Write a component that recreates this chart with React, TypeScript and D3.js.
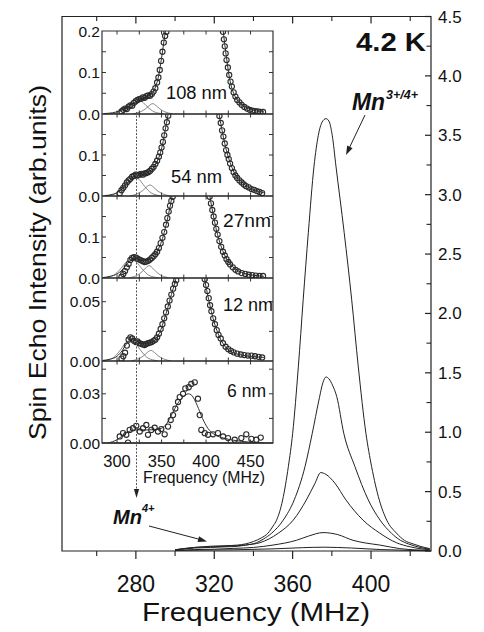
import React from 'react';
import * as d3 from 'd3';

type P = [number, number];

// ---------- main chart data (frequency MHz, intensity arb.units) ----------
const mainXMajor = [280, 320, 360, 400];
const mainXMinor = [260, 300, 340, 380, 420];
const mainYMajor = [0, 0.5, 1, 1.5, 2, 2.5, 3, 3.5, 4, 4.5];
const mainYMinor = [0.25, 0.75, 1.25, 1.75, 2.25, 2.75, 3.25, 3.75, 4.25];

const curve108: P[] = [
  [300, 0.01], [310, 0.03], [318, 0.04], [326, 0.045], [332, 0.05], [336, 0.06], [340, 0.08], [344, 0.11],
  [347.4, 0.15], [350, 0.21], [351.8, 0.26], [354.9, 0.43], [357.8, 0.71], [360, 0.99], [362.9, 1.55],
  [365.4, 2.12], [368, 2.68], [370.9, 3.24], [373.1, 3.5], [375, 3.61], [377, 3.64], [378.5, 3.62],
  [380.2, 3.5], [382.1, 3.24], [386.3, 2.68], [390.1, 2.12], [393.5, 1.55], [397.4, 0.99], [400.3, 0.71],
  [404.2, 0.43], [408, 0.26], [413, 0.15], [417, 0.09], [421.4, 0.06], [425, 0.04], [430, 0.02],
];
const curve54: P[] = [
  [300, 0.01], [310, 0.03], [318, 0.035], [326, 0.04], [332, 0.045], [336, 0.05], [341.6, 0.07], [345, 0.1],
  [349.3, 0.15], [355.2, 0.26], [360.8, 0.43], [366.3, 0.71], [370, 0.99], [373.4, 1.27], [375.5, 1.42],
  [377, 1.465], [378.5, 1.45], [380.5, 1.39], [382.5, 1.3], [386.1, 0.99], [391.8, 0.71], [398.6, 0.43],
  [404.6, 0.26], [410.4, 0.15], [415, 0.09], [419, 0.06], [425, 0.03], [430, 0.015],
];
const curve27: P[] = [
  [300, 0.01], [310, 0.025], [318, 0.03], [326, 0.035], [332, 0.04], [336, 0.05], [343.3, 0.07],
  [352.7, 0.15], [360.3, 0.26], [367, 0.43], [371.4, 0.57], [374.3, 0.66], [377, 0.645], [381.6, 0.57],
  [387.2, 0.43], [395.9, 0.26], [404.5, 0.15], [412.9, 0.07], [420, 0.035], [430, 0.01],
];
const curve12: P[] = [
  [300, 0.005], [310, 0.012], [320, 0.015], [330, 0.022], [340, 0.03], [350, 0.05], [361.9, 0.09],
  [368, 0.125], [375.5, 0.155], [383, 0.138], [390.8, 0.09], [397, 0.068], [404.5, 0.05], [414.7, 0.02],
  [422, 0.01], [430, 0.005],
];
const curve6: P[] = [
  [300, 0.005], [315, 0.008], [330, 0.01], [350, 0.018], [365, 0.028], [376, 0.032], [390, 0.025],
  [405, 0.012], [420, 0.005], [430, 0.002],
];

// ---------- inset data ----------
const insetXTicks = [300, 350, 400, 450];
const insetXMinor = [325, 375, 425];

const circles108: P[] = [
  [305, 0.006], [307, 0.01], [309, 0.013], [311, 0.012], [313, 0.018], [315, 0.021], [317, 0.02], [319, 0.027],
  [321, 0.031], [323, 0.034], [325, 0.036], [327, 0.037], [329, 0.04], [331, 0.039], [333, 0.043], [335, 0.045],
  [337, 0.044], [339, 0.048], [341, 0.054], [343, 0.062], [345, 0.076], [346.5, 0.088], [348, 0.106],
  [349.5, 0.128], [351, 0.15], [352.5, 0.172], [354, 0.188], [355.5, 0.198],
  [419, 0.198], [420, 0.18], [421, 0.163], [422, 0.146], [423, 0.13], [424.5, 0.112], [426, 0.094],
  [427.5, 0.078], [429, 0.066], [431, 0.052], [433, 0.042], [435, 0.034], [437.5, 0.028], [440, 0.022],
  [443, 0.017], [446, 0.013], [449, 0.01], [452, 0.008], [455, 0.007], [458, 0.006], [461, 0.005], [464, 0.005],
];
const fit108: P[] = [
  [285, 0.001], [295, 0.003], [302, 0.007], [308, 0.013], [314, 0.02], [320, 0.028], [326, 0.035], [332, 0.041],
  [337, 0.046], [341, 0.055], [344, 0.07], [347, 0.095], [350, 0.135], [353, 0.18], [355, 0.21], [358, 0.27],
  [416, 0.27], [419, 0.205], [421, 0.168], [423, 0.135], [425, 0.104], [428, 0.07], [432, 0.045], [438, 0.027],
  [445, 0.016], [455, 0.008], [465, 0.005],
];
const compA108: P[] = [
  [292, 0.0005], [302, 0.005], [310, 0.0175], [316, 0.03], [322, 0.035], [328, 0.03], [334, 0.0175], [342, 0.005], [352, 0.0005],
];
const compB108: P[] = [
  [318, 0.0005], [326, 0.005], [332, 0.0125], [336, 0.02], [340, 0.025], [344, 0.02], [348, 0.0125], [354, 0.005], [362, 0.0005],
];

const circles54: P[] = [
  [303, 0.007], [305, 0.014], [307, 0.02], [309, 0.026], [311, 0.033], [313, 0.038], [315, 0.042], [317, 0.047],
  [319, 0.049], [321, 0.052], [323, 0.05], [325, 0.052], [327, 0.054], [329, 0.052], [331, 0.055], [333, 0.056],
  [335, 0.058], [337, 0.061], [339, 0.066], [341, 0.071], [343, 0.078], [345, 0.086], [347, 0.096], [348.5, 0.106],
  [350, 0.118], [351.5, 0.132], [353, 0.148], [354.5, 0.165], [356, 0.18], [357.5, 0.196],
  [415, 0.195], [416.5, 0.178], [418, 0.16], [419.5, 0.145], [421, 0.128], [422.5, 0.112], [424, 0.1],
  [425.5, 0.09], [427, 0.079], [429, 0.068], [431, 0.058], [433, 0.05], [435, 0.044], [437.5, 0.038],
  [440, 0.033], [442.5, 0.028], [445, 0.024], [448, 0.021], [451, 0.017], [454, 0.015], [457, 0.012], [460, 0.01], [463, 0.007],
];
const fit54: P[] = [
  [286, 0.001], [295, 0.004], [300, 0.008], [306, 0.018], [312, 0.033], [318, 0.046], [324, 0.051], [330, 0.053],
  [336, 0.058], [340, 0.066], [344, 0.08], [348, 0.1], [351, 0.125], [354, 0.16], [357, 0.195], [360, 0.24],
  [412, 0.24], [415, 0.195], [418, 0.16], [421, 0.128], [425, 0.095], [429, 0.07], [434, 0.048], [440, 0.034],
  [447, 0.022], [455, 0.014], [465, 0.008],
];
const compA54: P[] = [
  [289, 0.0007], [299, 0.0066], [307, 0.0235], [313, 0.04], [319, 0.047], [325, 0.04], [331, 0.0235], [339, 0.0066], [349, 0.0007],
];
const compB54: P[] = [
  [315, 0.0005], [323, 0.0054], [329, 0.0135], [333, 0.0216], [337, 0.027], [341, 0.0216], [345, 0.0135], [351, 0.0054], [359, 0.0005],
];

const circles27: P[] = [
  [305, 0.003], [307, 0.01], [309, 0.017], [311, 0.026], [313, 0.034], [315, 0.044], [317, 0.049], [319, 0.051],
  [321, 0.05], [323, 0.047], [325, 0.045], [327, 0.043], [329, 0.041], [331, 0.039], [333, 0.04], [335, 0.042],
  [337, 0.045], [339, 0.049], [341, 0.053], [343, 0.058], [345, 0.064], [347, 0.073], [349, 0.085], [351, 0.098],
  [353, 0.112], [355, 0.13], [356.5, 0.146], [358, 0.162], [359.5, 0.176], [361, 0.188], [362.5, 0.198],
  [404, 0.198], [405.5, 0.182], [407, 0.166], [408.5, 0.15], [410, 0.135], [411.5, 0.12], [413, 0.106],
  [415, 0.09], [417, 0.076], [419, 0.064], [421, 0.055], [423, 0.046], [425, 0.039], [427, 0.033], [430, 0.026],
  [433, 0.02], [436, 0.016], [440, 0.012], [444, 0.01], [448, 0.008], [452, 0.007], [456, 0.006], [460, 0.005], [464, 0.005],
];
const fit27: P[] = [
  [284, 0.001], [292, 0.004], [300, 0.01], [306, 0.02], [311, 0.033], [316, 0.045], [320, 0.048], [324, 0.046],
  [328, 0.043], [332, 0.042], [336, 0.045], [340, 0.051], [344, 0.061], [348, 0.078], [352, 0.103], [356, 0.138],
  [360, 0.178], [364, 0.22], [402, 0.23], [405, 0.19], [408, 0.155], [411, 0.123], [415, 0.09], [420, 0.06],
  [426, 0.038], [433, 0.022], [442, 0.012], [452, 0.007], [465, 0.004],
];
const compA27: P[] = [
  [286, 0.0007], [296, 0.0063], [304, 0.0225], [310, 0.038], [316, 0.045], [322, 0.038], [328, 0.0225], [336, 0.0063], [346, 0.0007],
];
const compB27: P[] = [
  [314, 0.0006], [322, 0.006], [328, 0.015], [332, 0.024], [336, 0.03], [340, 0.024], [344, 0.015], [350, 0.006], [358, 0.0006],
];

const circles12: P[] = [
  [305, 0.002], [307, 0.004], [309, 0.007], [311, 0.013], [313, 0.018], [315, 0.02], [317, 0.019], [319, 0.017],
  [321, 0.016], [323, 0.0165], [325, 0.015], [327, 0.0145], [329, 0.014], [331, 0.0135], [333, 0.0145], [335, 0.015],
  [337, 0.0155], [339, 0.016], [341, 0.017], [343, 0.018], [345, 0.02], [347, 0.023], [349, 0.027], [351, 0.031],
  [353, 0.036], [355, 0.041], [357, 0.046], [359, 0.051], [361, 0.056], [363, 0.061], [365, 0.065], [366.5, 0.068],
  [398.5, 0.069], [400, 0.064], [401.5, 0.059], [403, 0.053], [404.5, 0.047], [406, 0.042], [408, 0.036],
  [410, 0.031], [412, 0.026], [414, 0.022], [416.5, 0.019], [419, 0.015], [422, 0.012], [425, 0.01], [428, 0.0085],
  [431, 0.0073], [435, 0.0062], [439, 0.0055], [443, 0.005], [447, 0.0046], [451, 0.0045], [455, 0.004], [459, 0.0035], [463, 0.003],
];
const fit12: P[] = [
  [284, 0.0005], [292, 0.0015], [300, 0.004], [306, 0.009], [311, 0.015], [316, 0.0185], [320, 0.018], [325, 0.0155],
  [330, 0.0145], [335, 0.0145], [340, 0.016], [345, 0.02], [349, 0.026], [353, 0.035], [357, 0.045], [361, 0.056],
  [365, 0.066], [368, 0.075], [396, 0.075], [399, 0.066], [402, 0.055], [405, 0.045], [409, 0.033], [413, 0.024],
  [418, 0.016], [424, 0.01], [431, 0.0068], [440, 0.005], [452, 0.0038], [465, 0.003],
];
const compA12: P[] = [
  [285, 0.0003], [295, 0.0024], [303, 0.0085], [309, 0.0145], [315, 0.017], [321, 0.0145], [327, 0.0085], [335, 0.0024], [345, 0.0003],
];
const compB12: P[] = [
  [316, 0.0002], [324, 0.0018], [330, 0.0045], [334, 0.0072], [338, 0.009], [342, 0.0072], [346, 0.0045], [352, 0.0018], [360, 0.0002],
];

const circles6: P[] = [
  [303, 0.004], [306.7, 0.006], [310.4, 0.005], [312.3, 0.0002], [314.2, 0.008], [317.9, 0.009], [321.6, 0.0105],
  [325.5, 0.007], [329.2, 0.009], [332.9, 0.011], [334.8, 0.005], [338.5, 0.008], [342.3, 0.0093], [346, 0.007],
  [349.7, 0.0085], [353.5, 0.0053], [357.3, 0.01], [360.3, 0.014], [362.9, 0.017], [365.5, 0.021], [368.5, 0.025],
  [370.4, 0.028], [374.1, 0.03], [376.7, 0.0333], [380.5, 0.034], [383.4, 0.036], [387.3, 0.037], [390.9, 0.027],
  [392.9, 0.017], [394.7, 0.008], [398.5, 0.006], [402.2, 0.005], [407.8, 0.0053], [413.4, 0.006], [419.1, 0.004],
  [424.7, 0.003], [432.2, 0.002], [439.6, 0.003], [445.2, 0.0053], [450.9, 0.0025], [456.5, 0.002], [461.4, 0.0033],
];
const fit6: P[] = [
  [290, 0], [300, 0.002], [310, 0.006], [320, 0.008], [335, 0.008], [350, 0.009], [356, 0.012], [362, 0.018],
  [368, 0.024], [374, 0.028], [380, 0.03], [384, 0.029], [390, 0.023], [396, 0.015], [402, 0.009], [410, 0.005],
  [420, 0.003], [440, 0.001], [465, 0],
];

const panelLabels = ['108 nm', '54 nm', '27nm', '12 nm', '6 nm'];
const panelMax = [0.2, 0.2, 0.2, 0.07, 0.05];
const panelTickLabels = [[0, 0.1, 0.2], [0, 0.1], [0, 0.1], [0, 0.05], [0, 0.03]];
const panelMinor = [[0.05, 0.1, 0.15], [0.05, 0.1, 0.15], [0.05, 0.1, 0.15], [0.025, 0.05], [0.015, 0.03, 0.045]];
const panelDigits = [1, 1, 1, 2, 2];
const panelCircles = [circles108, circles54, circles27, circles12, circles6];
const panelFits = [fit108, fit54, fit27, fit12, fit6];
const panelCompA = [compA108, compA54, compA27, compA12, null];
const panelCompB = [compB108, compB54, compB27, compB12, null];

// ---------- layout ----------
const W = 484, H = 632;
const FONT = '"Liberation Sans", Arial, Helvetica, sans-serif';
const mx = d3.scaleLinear().domain([242.3, 430.6]).range([62, 431]);
const my = d3.scaleLinear().domain([0, 4.5]).range([551, 16.5]);
const ix = d3.scaleLinear().domain([283.1, 475.2]).range([102, 273]);
const panelTop = [31, 114, 196, 278, 361];
const panelBottom = [114, 196, 278, 361, 443];
const labelPos: P[] = [[166, 99], [171, 183], [223, 227], [223, 311], [227, 397]];
const labelLen = [61, 51, 48, 50, 39];

function arrowHead(x1: number, y1: number, x2: number, y2: number, len: number, hw: number) {
  const dx = x2 - x1, dy = y2 - y1;
  const d = Math.hypot(dx, dy);
  const ux = dx / d, uy = dy / d;
  const bx = x2 - ux * len, by = y2 - uy * len;
  return `M${x2},${y2}L${bx - uy * hw},${by + ux * hw}L${bx + uy * hw},${by - ux * hw}Z`;
}

export default function App() {
  const mainLine = d3.line<P>().x(d => mx(d[0])).y(d => my(d[1])).curve(d3.curveMonotoneX);
  const curves = [curve108, curve54, curve27, curve12, curve6];

  return (
    <svg width={W} height={H} viewBox={`0 0 ${W} ${H}`}
      style={{ position: 'absolute', left: 0, top: 0, background: '#fff' }} fontFamily={FONT}>
      <defs>
        {panelTop.map((t, i) => (
          <clipPath id={`pc${i}`} key={i}>
            <rect x={102} y={t} width={171} height={panelBottom[i] - t} />
          </clipPath>
        ))}
      </defs>
      <rect x={0} y={0} width={W} height={H} fill="#fff" />

      {/* main curves */}
      {curves.map((c, i) => (
        <path key={i} d={mainLine(c) || ''} fill="none" stroke="#222" strokeWidth={1} />
      ))}

      {/* main frame */}
      <path d={`M62,16.5H431V551H62Z`} fill="none" stroke="#222" strokeWidth={1.2} />
      {mainXMajor.map(v => (
        <g key={`xm${v}`}>
          <line x1={mx(v)} x2={mx(v)} y1={551} y2={559} stroke="#222" strokeWidth={1.2} />
          <line x1={mx(v)} x2={mx(v)} y1={16.5} y2={23.5} stroke="#222" strokeWidth={1.2} />
          <text x={mx(v)} y={591.5} fontSize={23} textAnchor="middle" fill="#111">{v}</text>
        </g>
      ))}
      {mainXMinor.map(v => (
        <g key={`xn${v}`}>
          <line x1={mx(v)} x2={mx(v)} y1={551} y2={556} stroke="#222" strokeWidth={1.1} />
          <line x1={mx(v)} x2={mx(v)} y1={16.5} y2={21} stroke="#222" strokeWidth={1.1} />
        </g>
      ))}
      {mainYMajor.map(v => (
        <g key={`ym${v}`}>
          <line x1={425} x2={431} y1={my(v)} y2={my(v)} stroke="#222" strokeWidth={1.2} />
          <text x={438} y={my(v) + 6} fontSize={17} fill="#111">{v.toFixed(1)}</text>
        </g>
      ))}
      {mainYMinor.map(v => (
        <line key={`yn${v}`} x1={426.5} x2={431} y1={my(v)} y2={my(v)} stroke="#222" strokeWidth={1.1} />
      ))}

      <text x={256} y={621} fontSize={26} textAnchor="middle" fill="#111" textLength={228} lengthAdjust="spacingAndGlyphs">Frequency (MHz)</text>
      <text transform="translate(46,262.5) rotate(-90)" fontSize={24} textAnchor="middle" fill="#111" textLength={355} lengthAdjust="spacingAndGlyphs">Spin Echo Intensity (arb.units)</text>

      <text x={356} y={51} fontSize={25} fontWeight="bold" fill="#111" textLength={70} lengthAdjust="spacingAndGlyphs">4.2 K</text>

      {/* Mn3+/4+ annotation */}
      <text x={352} y={110} fontSize={24} fontWeight="bold" fontStyle="italic" fill="#111" textLength={33} lengthAdjust="spacingAndGlyphs">Mn</text>
      <text x={386} y={99} fontSize={12.5} fontWeight="bold" fontStyle="italic" fill="#111" textLength={32} lengthAdjust="spacingAndGlyphs">3+/4+</text>
      <line x1={365} y1={115} x2={349.5} y2={147.5} stroke="#222" strokeWidth={1} />
      <path d={arrowHead(365, 115, 346, 155, 9, 3)} fill="#222" />

      {/* Mn4+ annotation */}
      <text x={113} y={524} fontSize={21} fontWeight="bold" fontStyle="italic" fill="#111" textLength={29} lengthAdjust="spacingAndGlyphs">Mn</text>
      <text x={142} y={512} fontSize={11} fontWeight="bold" fontStyle="italic" fill="#111">4+</text>
      <line x1={149} y1={526} x2={199} y2={539.2} stroke="#222" strokeWidth={1} />
      <path d={arrowHead(149, 526, 207, 541.5, 9, 3)} fill="#222" />

      {/* inset */}
      <rect x={102} y={31} width={171} height={412} fill="#fff" />
      {panelTop.map((t, i) => {
        const b = panelBottom[i];
        const py = d3.scaleLinear().domain([0, panelMax[i]]).range([b, t]);
        const ln = d3.line<P>().x(d => ix(d[0])).y(d => py(d[1])).curve(d3.curveMonotoneX);
        const ca = panelCompA[i], cb = panelCompB[i];
        return (
          <g key={`panel${i}`}>
            <g clipPath={`url(#pc${i})`}>
              {ca && <path d={ln(ca) || ''} fill="none" stroke="#555" strokeWidth={0.7} />}
              {cb && <path d={ln(cb) || ''} fill="none" stroke="#555" strokeWidth={0.7} />}
              <path d={ln(panelFits[i]) || ''} fill="none" stroke="#333" strokeWidth={1} />
              {panelCircles[i].map((d, k) => (
                <circle key={k} cx={ix(d[0])} cy={py(d[1])} r={2.6} fill="none" stroke="#2a2a2a" strokeWidth={1.1} />
              ))}
            </g>
            {panelMinor[i].map(v => (
              <g key={`pm${v}`}>
                <line x1={102} x2={106} y1={py(v)} y2={py(v)} stroke="#333" strokeWidth={1} />
                <line x1={269} x2={273} y1={py(v)} y2={py(v)} stroke="#333" strokeWidth={1} />
              </g>
            ))}
            {[...insetXTicks, ...insetXMinor].map(v => (
              <g key={`px${v}`}>
                <line x1={ix(v)} x2={ix(v)} y1={b} y2={b - 3.5} stroke="#333" strokeWidth={1} />
                <line x1={ix(v)} x2={ix(v)} y1={t} y2={t + 3.5} stroke="#333" strokeWidth={1} />
              </g>
            ))}
            {panelTickLabels[i].map(v => (
              <text key={`pl${v}`} x={100} y={py(v) + 5.5} fontSize={15.5} textAnchor="end" fill="#111">
                {v.toFixed(panelDigits[i])}
              </text>
            ))}
            <line x1={102} x2={273} y1={b} y2={b} stroke="#222" strokeWidth={1.4} />
            <text x={labelPos[i][0]} y={labelPos[i][1]} fontSize={18} fill="#111" textLength={labelLen[i]} lengthAdjust="spacingAndGlyphs">{panelLabels[i]}</text>
          </g>
        );
      })}
      <path d="M102,31H273V443H102Z" fill="none" stroke="#333" strokeWidth={1.2} />
      {insetXTicks.map(v => (
        <text key={`ixl${v}`} x={ix(v)} y={466.5} fontSize={16.5} textAnchor="middle" fill="#111">{v}</text>
      ))}
      <text x={204} y={483} fontSize={16} textAnchor="middle" fill="#111" textLength={122} lengthAdjust="spacingAndGlyphs">Frequency (MHz)</text>

      {/* dashed guide line */}
      <line x1={136.5} x2={136.5} y1={112} y2={489} stroke="#555" strokeWidth={1} strokeDasharray="2,1.5" />
      <path d={arrowHead(136.5, 480, 136.5, 498, 9, 2.6)} fill="#222" />
    </svg>
  );
}
